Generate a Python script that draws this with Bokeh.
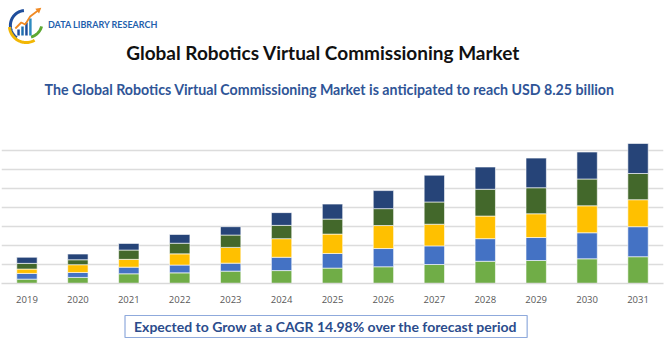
import numpy as np
from bokeh.plotting import figure
from bokeh.layouts import column
from bokeh.models import Range1d, FactorRange, FixedTicker, ColumnDataSource
from bokeh.core.properties import value
from bokeh.embed import file_html
from bokeh.resources import INLINE

# ---------------- data ----------------
years = [str(y) for y in range(2019, 2032)]
seg_a = [0.23, 0.32, 0.51, 0.56, 0.65, 0.68, 0.81, 0.88, 1.00, 1.17, 1.21, 1.30, 1.41]  # light green
seg_b = [0.30, 0.26, 0.35, 0.41, 0.42, 0.70, 0.77, 0.96, 0.98, 1.19, 1.21, 1.37, 1.58]  # blue
seg_c = [0.23, 0.41, 0.41, 0.59, 0.83, 0.98, 1.02, 1.21, 1.14, 1.19, 1.25, 1.42, 1.42]  # yellow
seg_d = [0.30, 0.26, 0.49, 0.56, 0.65, 0.70, 0.79, 0.89, 1.17, 1.41, 1.37, 1.41, 1.38]  # dark green
seg_e = [0.32, 0.30, 0.35, 0.46, 0.44, 0.67, 0.79, 0.95, 1.41, 1.17, 1.56, 1.42, 1.58]  # navy
grid_ticks = [0, 1, 2, 3, 4, 5, 6, 7, 8]

title_text = "Global Robotics Virtual Commissioning Market"
subtitle_text = "The Global Robotics Virtual Commissioning Market is anticipated to reach USD 8.25 billion"
footer_text = "Expected to Grow at a CAGR 14.98% over the forecast period"
brand_text = "DATA LIBRARY RESEARCH"

names = ["a", "b", "c", "d", "e"]
colors = ["#70AD47", "#4472C4", "#FFC000", "#43682B", "#264478"]

# ---------------- header ----------------
header = figure(width=670, height=125, x_range=Range1d(0, 670), y_range=Range1d(125, 0),
                output_backend="svg", toolbar_location=None, min_border=0)
header.axis.visible = False
header.grid.visible = False
header.outline_line_color = None

def arc_pts(cx, cy, r, a0, a1, n=40):
    t = np.radians(np.linspace(a0, a1, n))
    return cx + r * np.cos(t), cy - r * np.sin(t)

# logo
bx, by = arc_pts(24, 25, 15, 95, 235)
header.line(bx, by, line_color="#1F4E9C", line_width=3)
yx, yy = arc_pts(25, 25, 17, 185, 300)
header.line(yx, yy, line_color="#F2B705", line_width=3)
gx, gy = arc_pts(26, 22, 15, 285, 345)
header.line(gx, gy, line_color="#5DA832", line_width=3)
header.quad(left=[16, 20, 24, 28], right=[18.5, 22.5, 26.5, 30.5],
            top=[29, 26, 22, 18], bottom=[35, 35, 35, 35],
            fill_color=["#1F4E9C", "#1F6FB0", "#1F4E9C", "#2E8BC0"], line_color=None)
header.line([14, 20, 24, 29, 37], [28, 22, 24, 16, 10], line_color="#F08A24", line_width=1.8)
header.scatter([37.5], [9.5], marker="triangle", size=6, angle=-0.9,
               fill_color="#F08A24", line_color=None)
header.text(x=[47], y=[24], text=[brand_text], text_font=value("Lato"), text_font_style="bold",
            text_font_size="9px", text_color="#1F5FAD", text_align="left", text_baseline="middle")

header.text(x=[325.5], y=[52], text=[title_text], text_font=value("Lato"), text_font_style="bold",
            text_font_size="19px", text_color="#111111", text_align="center", text_baseline="middle")
header.text(x=[332], y=[89], text=[subtitle_text], text_font=value("Lato"), text_font_style="bold",
            text_font_size="14.2px", text_color="#2F5597", text_align="center", text_baseline="middle")

# ---------------- chart ----------------
source = ColumnDataSource(dict(years=years, a=seg_a, b=seg_b, c=seg_c, d=seg_d, e=seg_e))
chart = figure(width=670, height=185, x_range=FactorRange(*years), y_range=Range1d(0, 8),
               output_backend="svg", toolbar_location=None,
               min_border_left=1, min_border_right=7, min_border_top=6, min_border_bottom=27)
chart.vbar_stack(names, x="years", width=0.4, color=colors, line_color="white",
                 line_width=0.6, source=source)
chart.yaxis.visible = False
chart.xgrid.visible = False
chart.ygrid.ticker = FixedTicker(ticks=grid_ticks)
chart.ygrid.grid_line_color = "#DCDCDC"
chart.ygrid.grid_line_width = 1.5
chart.outline_line_color = None
chart.xaxis.axis_line_color = "#D9D9D9"
chart.xaxis.axis_line_width = 1.5
chart.xaxis.major_tick_line_color = None
chart.xaxis.minor_tick_line_color = None
chart.xaxis.major_label_text_font = "Open Sans"
chart.xaxis.major_label_text_font_size = "9.5px"
chart.xaxis.major_label_text_color = "#595959"
chart.xaxis.major_label_standoff = 6

# ---------------- footer ----------------
footer = figure(width=670, height=40, x_range=Range1d(0, 670), y_range=Range1d(40, 0),
                output_backend="svg", toolbar_location=None, min_border=0)
footer.axis.visible = False
footer.grid.visible = False
footer.outline_line_color = None
footer.quad(left=[125], right=[532], top=[5], bottom=[27], fill_color=None,
            line_color="#8FAADC", line_width=1.2)
footer.text(x=[328], y=[16], text=[footer_text], text_font=value("Lato"), text_font_style="bold",
            text_font_size="14px", text_color="#2B4C8C", text_align="center", text_baseline="middle")

layout = column(header, chart, footer, spacing=0)
open("out.html", "w").write(file_html(layout, INLINE))
